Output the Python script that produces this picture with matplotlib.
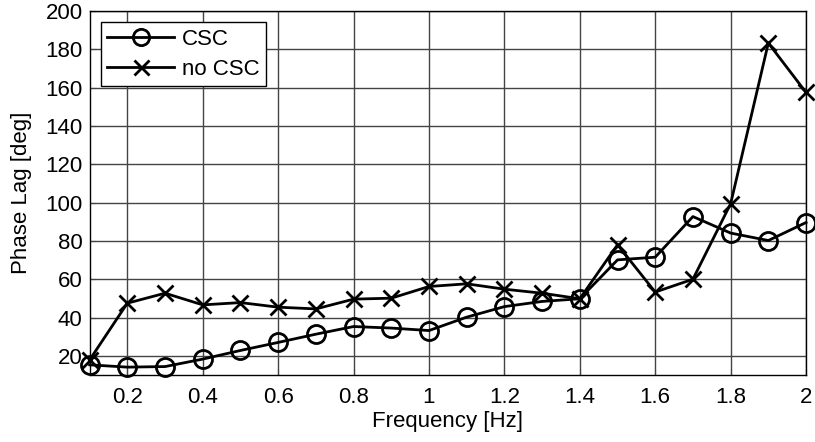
import numpy as np
import matplotlib.pyplot as plt

plt.rcParams['font.family'] = ['Liberation Sans', 'DejaVu Sans']

freq = [0.1, 0.2, 0.3, 0.4, 0.5, 0.6, 0.7, 0.8, 0.9, 1.0,
        1.1, 1.2, 1.3, 1.4, 1.5, 1.6, 1.7, 1.8, 1.9, 2.0]
csc = [15.3, 14.1, 14.4, 18.3, 22.8, 27.0, 31.3, 35.3, 34.5, 33.2,
       40.2, 45.7, 48.4, 49.8, 70.1, 71.5, 92.7, 84.1, 80.2, 89.6]
no_csc = [17.9, 47.5, 52.7, 46.6, 47.8, 45.4, 44.5, 49.6, 50.1, 56.2,
          57.6, 54.8, 52.7, 49.8, 78.0, 53.3, 60.0, 99.4, 183.3, 157.5]

xticks = [0.2, 0.4, 0.6, 0.8, 1.0, 1.2, 1.4, 1.6, 1.8, 2.0]
xticklabels = ['0.2', '0.4', '0.6', '0.8', '1', '1.2', '1.4', '1.6', '1.8', '2']
yticks = [20, 40, 60, 80, 100, 120, 140, 160, 180, 200]

fig = plt.figure(figsize=(8.15, 4.42), dpi=100)
ax = fig.add_axes([0.110, 0.1516, 0.879, 0.8234])

ax.plot(freq, csc, color='black', lw=2, marker='o', ms=13,
        mfc='none', mew=2, label='CSC', zorder=3, clip_on=False)
ax.plot(freq, no_csc, color='black', lw=2, marker='x', ms=12,
        mew=2, label='no CSC', zorder=3, clip_on=False)

ax.set_xlim(0.1, 2.0)
ax.set_ylim(10, 200)
ax.set_xticks(xticks)
ax.set_xticklabels(xticklabels)
ax.set_yticks(yticks)
ax.grid(True, color='#444444', lw=1, ls='-')
ax.tick_params(direction='in', length=4, labelsize=16, color='#444444', pad=5)
ax.tick_params(axis='x', pad=9)
for s in ax.spines.values():
    s.set_color('black')
    s.set_linewidth(1)

ax.set_xlabel('Frequency [Hz]', fontsize=16, labelpad=2)
ax.set_ylabel('Phase Lag [deg]', fontsize=16, labelpad=10)

leg = ax.legend(loc='upper left', fontsize=16, fancybox=False,
                edgecolor='black', framealpha=1, borderaxespad=0.5,
                handlelength=3.0, handletextpad=0.35, borderpad=0.3,
                labelspacing=0.4, markerscale=0.9)
leg.get_frame().set_linewidth(1)

fig.savefig('out.png', dpi=100)
